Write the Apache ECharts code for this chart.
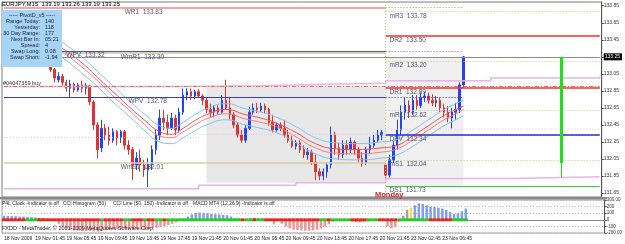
<!DOCTYPE html>
<html>
<head>
<meta charset="utf-8">
<script src="https://cdn.jsdelivr.net/npm/echarts@6/dist/echarts.min.js"></script>
<style>
  html, body { margin: 0; padding: 0; background: #fff; }
  #chart { width: 625px; height: 244px; }
</style>
</head>
<body>
<div id="chart"></div>
<script>
// EURJPY M15, shown here as 30 minute slots, 154 slots across the window
const slotCount = 154;
const tickLabels = ['18 Nov 2009', '19 Nov 01:45', '19 Nov 05:45', '19 Nov 09:45', '19 Nov 13:45',
  '19 Nov 17:45', '19 Nov 21:45', '20 Nov 01:45', '20 Nov 05:45', '20 Nov 09:45', '20 Nov 13:45',
  '20 Nov 17:45', '20 Nov 21:45', '23 Nov 02:45', '23 Nov 06:45'];
const priceTicks = [131.65, 131.85, 132.05, 132.25, 132.45, 132.65, 132.85, 133.05, 133.25, 133.45, 133.65, 133.85];
const bidPrice = 133.25;
const orderPrice = 132.91;

// [open, close, low, high]
const candles = [
  [133.61,133.56,133.53,133.66],[133.56,133.52,133.48,133.60],[133.52,133.59,133.49,133.62],[133.59,133.49,133.46,133.61],
  [133.49,133.45,133.41,133.53],[133.45,133.47,133.40,133.51],[133.47,133.40,133.37,133.49],[133.40,133.35,133.32,133.44],
  [133.35,133.38,133.31,133.42],[133.38,133.31,133.27,133.40],[133.31,133.26,133.22,133.34],[133.26,133.21,133.18,133.29],
  [133.21,133.10,133.07,133.24],[133.10,133.00,132.95,133.12],[132.98,133.02,132.95,133.07],[133.02,132.95,132.91,133.05],
  [132.95,132.88,132.84,132.98],[132.88,132.93,132.78,132.98],[132.93,132.86,132.83,132.95],[132.86,132.92,132.84,132.94],
  [132.92,132.88,132.83,132.97],[132.88,132.91,132.81,132.94],[132.91,132.72,132.68,132.92],[132.72,132.45,132.39,132.74],
  [132.45,132.16,132.06,132.48],[132.18,132.41,132.13,132.51],[132.41,132.33,132.27,132.46],[132.33,132.27,132.21,132.43],
  [132.27,132.37,132.24,132.41],[132.37,132.30,132.21,132.39],[132.30,132.37,132.24,132.39],[132.37,132.21,132.16,132.39],
  [132.21,132.16,132.10,132.27],[132.16,131.98,131.80,132.19],[131.98,132.06,131.92,132.13],[132.06,131.98,131.90,132.16],
  [131.98,131.92,131.84,132.04],[131.92,131.98,131.72,132.06],[131.98,132.16,131.92,132.21],[132.16,132.33,132.10,132.39],
  [132.33,132.53,132.27,132.63],[132.53,132.48,132.39,132.63],[132.48,132.41,132.33,132.57],[132.41,132.53,132.39,132.59],
  [132.53,132.39,132.33,132.57],[132.39,132.60,132.36,132.65],[132.60,132.80,132.57,132.88],[132.80,132.84,132.74,132.88],
  [132.84,132.79,132.74,132.88],[132.79,132.84,132.75,132.86],[132.84,132.79,132.77,132.87],[132.79,132.74,132.68,132.81],
  [132.74,132.63,132.59,132.77],[132.63,132.60,132.54,132.70],[132.60,132.65,132.54,132.68],[132.65,132.60,132.57,132.68],
  [132.60,132.74,132.58,132.80],[132.74,132.65,132.63,132.98],[132.65,132.57,132.51,132.78],[132.57,132.45,132.41,132.60],
  [132.45,132.33,132.30,132.48],[132.33,132.27,132.24,132.39],[132.27,132.41,132.24,132.45],[132.41,132.60,132.39,132.66],
  [132.60,132.65,132.57,132.70],[132.65,132.63,132.59,132.71],[132.63,132.67,132.60,132.71],[132.67,132.63,132.59,132.70],
  [132.63,132.48,132.44,132.65],[132.48,132.39,132.36,132.57],[132.39,132.45,132.37,132.48],[132.45,132.41,132.38,132.48],
  [132.41,132.33,132.30,132.51],[132.33,132.27,132.24,132.39],[132.27,132.20,132.18,132.32],[132.20,132.24,132.16,132.27],
  [132.24,132.16,132.12,132.27],[132.16,132.10,132.06,132.21],[132.10,132.13,132.04,132.18],[132.13,132.01,131.98,132.16],
  [132.01,131.90,131.80,132.10],[131.90,131.85,131.80,131.94],[131.85,131.90,131.80,131.94],[131.90,131.98,131.83,132.01],
  [131.98,132.33,131.94,132.43],[132.33,132.18,132.10,132.37],[132.18,132.10,132.04,132.24],[132.10,132.21,132.06,132.27],
  [132.21,132.16,132.10,132.27],[132.16,132.25,132.12,132.30],[132.25,132.16,132.10,132.27],[132.16,132.06,132.01,132.19],
  [132.06,132.00,131.96,132.13],[132.00,132.16,131.98,132.19],[132.16,132.21,132.12,132.31],[132.21,132.27,132.18,132.33],
  [132.27,132.33,132.24,132.39],[132.33,132.36,132.27,132.39],
  [131.98,131.86,131.80,132.00],[131.86,132.04,131.83,132.10],[132.04,132.21,132.00,132.27],[132.21,132.39,132.16,132.51],
  [132.39,132.60,132.33,132.68],[132.60,132.68,132.51,132.77],[132.68,132.60,132.53,132.74],[132.60,132.74,132.57,132.80],
  [132.74,132.68,132.63,132.80],[132.68,132.77,132.65,132.83],[132.77,132.79,132.72,132.84],[132.79,132.74,132.70,132.83],
  [132.74,132.71,132.67,132.81],[132.71,132.74,132.66,132.79],[132.74,132.65,132.60,132.77],[132.65,132.60,132.54,132.70],
  [132.60,132.53,132.48,132.67],[132.53,132.60,132.41,132.65],[132.60,132.63,132.51,132.71],[132.63,132.92,132.59,132.95],
  [132.92,133.25,132.88,133.26]
];

// envelope lines, [slot, price]
const bandUpper = [[8,133.64],[15,133.42],[20,133.25],[24,133.08],[28,132.91],[32,132.74],[36,132.58],[40,132.44],[43,132.41],[46,132.48],[49,132.57],[52,132.64],[57,132.70],[62,132.64],[66,132.60],[70,132.54],[75,132.43],[80,132.30],[85,132.24],[90,132.23],[97,132.25],[101,132.28],[105,132.39],[109,132.51],[113,132.63],[116,132.70],[118,132.74]];
const maFast = [[8,133.56],[15,133.35],[20,133.18],[24,133.01],[28,132.84],[32,132.67],[36,132.51],[40,132.37],[43,132.34],[46,132.41],[49,132.50],[52,132.57],[57,132.63],[62,132.57],[66,132.53],[70,132.47],[75,132.36],[80,132.23],[85,132.17],[90,132.16],[97,132.18],[101,132.21],[105,132.32],[109,132.44],[113,132.56],[116,132.63],[118,132.67]];
const maSlow = [[8,133.52],[15,133.31],[20,133.13],[24,132.97],[28,132.79],[32,132.63],[36,132.46],[40,132.32],[43,132.30],[46,132.37],[49,132.45],[52,132.52],[57,132.58],[62,132.52],[66,132.48],[70,132.43],[75,132.31],[80,132.18],[85,132.12],[90,132.11],[97,132.13],[101,132.17],[105,132.27],[109,132.39],[113,132.51],[116,132.58],[118,132.63]];
const bandLower = [[8,133.45],[15,133.24],[20,133.06],[24,132.90],[28,132.72],[32,132.56],[36,132.39],[40,132.25],[43,132.23],[46,132.30],[49,132.38],[52,132.45],[57,132.51],[62,132.45],[66,132.41],[70,132.36],[75,132.24],[80,132.11],[85,132.05],[90,132.04],[97,132.06],[101,132.10],[105,132.20],[109,132.32],[113,132.44],[116,132.51],[118,132.56]];

// stepped range lines
const rangeHigh = [[0,132.90],[45,132.91],[66,132.93],[86,132.94],[98,132.97],[125,133.00],[153,133.02]];
const rangeMid = [[0,132.30],[50,132.34],[98,132.40],[153,132.40]];
const rangeLow = [[0,131.70],[50,131.74],[75,131.77],[98,131.82],[130,131.84],[153,131.84]];

// pivot levels
const levelNames = ['WR1', 'mR3', 'DR2', 'WPV', 'WmR1', 'mR2', 'DR1', 'WPV', 'mR1', 'DPV', 'mS1', 'WmS1', 'DS1'];
const levelValues = [133.83, 133.78, 133.50, 133.32, 133.30, 133.20, 132.89, 132.78, 132.62, 132.34, 132.04, 132.01, 131.73];

// CCI histogram, one value per slot
const cciHist = [
  60, 60, 55, 55, 50, 50, 45, 40, 35, 30, 25, 20,
  10, -10, -60, -100, -130, -150, -160, -165, -170, -170, -165, -175, -180, -170,
  -150, -145, -140, -140, -135, -130, -135, -140, -145, -150, -145, -140, -130, -120, -110, -100, -80, -60, -40, -20,
  20, 50, 80, 100, 110, 105, 100, 90, 85, 80, 75, 70, 50,
  30, 20, 10, 15, 25, 30, 25, 20, 15, 5,
  -70, -20,
  -60, -100, -130, -150, -155, -160, -165, -165,
  -160, -150, -130, -100, -70, -30,
  -20, -15, -15, -20, -25, -35, -40, -35, -25, -10,
  10, 15, 15,
  -100, -130, -110, -30,
  60, 150, 180, 220, 250, 240, 220, 200, 195, 185, 170, 150, 120, 90, 100, 130, 170
];
const cciGrey = [102, 103];
const cciYellow = [13, 104];
const cciTrend = ['RRRRRR', 'GGG', 'RRRRRRRRRRRRRR', 'RRGRRR', 'RRGGRRRGRR', 'GGRGGG', 'GGGGGGGGGGGGGG',
  'GGRGGRGGRR', 'RRRRRRRRRRRR', 'GGR', 'GGGGG', 'RRRR', 'GGG', 'RRRRR', 'GGGGGGGG', 'RRRRRR', 'GGGG'].join('');

const fontFam = 'Liberation Sans, Arial, sans-serif';
const cats = Array.from({ length: slotCount }, (_, i) => String(i));
const yMin = 131.603, yMax = 133.894;
const D = 98, E = 118, R = slotCount - 1;

const olive = { color: '#c8c870', width: 1, type: [1, 2] };
function solid(color, width) {
  return { color: color, width: width, type: 'solid' };
}
function dotted(color) {
  return { color: color, width: 1, type: [1, 2] };
}
function seg(x0, x1, v, style) {
  return [{ coord: [x0, v], lineStyle: style }, { coord: [x1, v] }];
}
const L = levelValues;
const levelLines = [
  seg(0, D, L[0], solid('#f5a5a5', 2)),
  seg(D, E, L[0], dotted('#f07070')),
  seg(D, R, L[1], olive),
  seg(D, R, L[2], solid('#ff2a2a', 1.5)),
  seg(0, D, L[4], solid('#c8c890', 1.5)),
  seg(0, D, L[3], solid('#5050c8', 1)),
  seg(D, E, L[3], dotted('#7070b0')),
  seg(0, R, bidPrice, solid('#8c8c8c', 1)),
  seg(D, R, L[5], olive),
  seg(D, R, L[6], solid('#ff2a2a', 1.5)),
  seg(0, R, orderPrice, { color: '#ff6a3a', width: 1, type: [4, 2, 1, 2] }),
  seg(0, D, L[7], solid('#3a3ad0', 1.2)),
  seg(D, E, L[7], dotted('#3a3ad0')),
  seg(D, R, L[8], olive),
  seg(D, R, L[9], solid('#2a2ad0', 1.5)),
  seg(D, R, L[10], olive),
  seg(0, D, L[11], solid('#d0d0a0', 1.5)),
  seg(D, R, L[12], solid('#30d030', 1)),
  [{ coord: [D, yMax], lineStyle: olive }, { coord: [D, yMin] }],
  [{ coord: [143, bidPrice], lineStyle: solid('#22dd22', 3) }, { coord: [143, 132.00] }],
  [{ coord: [143, 132.00], lineStyle: solid('#22dd22', 1) }, { coord: [143, 131.83] }]
];

const chart = echarts.init(document.getElementById('chart'), null, { renderer: 'canvas' });

function lineSeries(data, color, width, extra) {
  return Object.assign({
    type: 'line', xAxisIndex: 0, yAxisIndex: 0, data: data, symbol: 'none', silent: true,
    lineStyle: { color: color, width: width }, animation: false
  }, extra || {});
}

chart.setOption({
  animation: false,
  backgroundColor: '#ffffff',
  textStyle: { fontFamily: fontFam },
  grid: [
    { left: 2, top: 2, width: 605, height: 195, show: true, borderColor: '#7a7a7a', borderWidth: 1 },
    { left: 2, top: 200, width: 605, height: 33, show: true, borderColor: '#9a9a9a', borderWidth: 1 }
  ],
  xAxis: [
    { type: 'category', gridIndex: 0, data: cats, boundaryGap: true, show: false },
    {
      type: 'category', gridIndex: 1, data: cats, boundaryGap: true,
      axisLine: { lineStyle: { color: '#888' } },
      axisTick: { alignWithLabel: true, length: 2, interval: (i) => i % 8 === 0 && i <= 112, lineStyle: { color: '#333' } },
      axisLabel: {
        interval: (i) => i % 8 === 0 && i <= 112, align: 'left', fontSize: 5, color: '#222', margin: 3,
        formatter: (v, i) => tickLabels[i / 8] || ''
      }
    }
  ],
  yAxis: [
    {
      type: 'value', gridIndex: 0, position: 'right', min: yMin, max: yMax,
      axisLine: { show: true, lineStyle: { color: '#555' } },
      axisTick: { show: true, length: 2, customValues: priceTicks, lineStyle: { color: '#444' } },
      axisLabel: {
        customValues: priceTicks, fontSize: 5, color: '#333', margin: 2,
        formatter: (v) => Math.abs(v - bidPrice) < 1e-6 ? '{hl|' + v.toFixed(2) + '}' : v.toFixed(2),
        rich: { hl: { backgroundColor: '#000', color: '#fff', fontSize: 5, padding: [1, 2, 1, 1] } }
      },
      splitLine: { show: false }
    },
    {
      type: 'value', gridIndex: 1, position: 'right', min: -200, max: 300, interval: 100,
      axisLine: { show: true, lineStyle: { color: '#555' } },
      axisTick: { show: true, length: 2 },
      axisLabel: {
        fontSize: 4.5, color: '#333', margin: 2,
        formatter: (v) => v === 300 ? '300.00' : v === -200 ? '-200.00' : String(v)
      },
      splitLine: { show: true, lineStyle: { color: '#bbb', type: [1, 2] } }
    }
  ],
  series: [
    {
      type: 'candlestick', name: 'EURJPY', xAxisIndex: 0, yAxisIndex: 0, data: candles,
      barMaxWidth: 3, silent: true,
      itemStyle: { color: '#2244ee', color0: '#dd3333', borderColor: '#2244ee', borderColor0: '#dd3333', borderWidth: 1 },
      markArea: {
        silent: true,
        data: [
          [{ coord: [52, 132.91], itemStyle: { color: '#e8e8e8' } }, { coord: [D, 131.77] }],
          [{ coord: [D, 133.24], itemStyle: { color: '#f0f0f0' } }, { coord: [E, 131.73] }]
        ]
      },
      markLine: { silent: true, symbol: ['none', 'none'], label: { show: false }, data: levelLines }
    },
    lineSeries(rangeHigh, '#e6b4e6', 1.5, { step: 'end' }),
    lineSeries(rangeMid, '#eab8ea', 1, { step: 'end', lineStyle: { color: '#eab8ea', width: 1, type: [1, 2] } }),
    lineSeries(rangeLow, '#e6b4e6', 1.5, { step: 'end' }),
    lineSeries(bandUpper, '#7ec4f4', 1, { smooth: true }),
    lineSeries(maFast, '#ff4a4a', 1, { smooth: true }),
    lineSeries(maSlow, '#ff7a7a', 1, { smooth: true }),
    lineSeries(bandLower, '#7ec4f4', 1, { smooth: true }),
    {
      type: 'bar', name: 'CCI', xAxisIndex: 1, yAxisIndex: 1, barWidth: 2.5, silent: true,
      data: cciHist.map((v, i) => ({
        value: v,
        itemStyle: {
          color: cciYellow.includes(i) ? '#f0e040' : cciGrey.includes(i) ? '#a0a0a0' : v >= 0 ? '#7f9fec' : '#f09494'
        }
      }))
    },
    {
      type: 'custom', name: 'trend', xAxisIndex: 1, yAxisIndex: 1, z: 5, silent: true,
      data: cciTrend.split('').map((s, i) => [i, s === 'G' ? 1 : -1]),
      renderItem: (params, api) => {
        const i = api.value(0);
        const top = api.coord([i, 22]);
        const bot = api.coord([i, -22]);
        const w = api.size([1, 0])[0];
        return {
          type: 'rect',
          shape: { x: top[0] - w / 2, y: top[1], width: w, height: bot[1] - top[1] },
          style: { fill: api.value(1) > 0 ? '#22cc22' : '#ee2020' }
        };
      }
    }
  ]
});

// overlay texts and the info panel, placed through the axes
const px = (slot, price) => chart.convertToPixel({ xAxisIndex: 0, yAxisIndex: 0 }, [slot, price]);
function txt(text, x, y, opts) {
  return {
    type: 'text', z: 50, silent: true,
    style: Object.assign({ text: text, x: x, y: y, fill: '#55557a', fontSize: 6.5, fontFamily: fontFam, align: 'left', verticalAlign: 'top' }, opts || {})
  };
}
const levelLabelSlots = [31, 99, 99, 16, 30, 99, 99, 32, 99, 99, 99, 30, 99];
const graphics = [];
levelNames.forEach((name, k) => {
  const p = px(levelLabelSlots[k], levelValues[k]);
  graphics.push(txt(name + '  ' + levelValues[k].toFixed(2), p[0], p[1] + 1));
});

// info box
graphics.push({ type: 'rect', z: 40, silent: true, shape: { x: 2, y: 10, width: 60, height: 57 }, style: { fill: '#a6d4f7' } });
graphics.push(txt('----- PivotD_v5 -----', 32, 15, { align: 'center', verticalAlign: 'middle', fontSize: 5.5, fill: '#223' }));
const infoRows = [['Range Today:', '140'], ['Yesterday:', '118'], ['30 Day Range:', '177'], ['Next Bar In:', '05:21'],
  ['Spread:', '4'], ['Swap Long:', '0.08'], ['Swap Short:', '-1.94']];
infoRows.forEach((r, k) => {
  const y = 21 + k * 6;
  graphics.push(txt(r[0], 40, y, { align: 'right', verticalAlign: 'middle', fontSize: 5.5, fill: '#223' }));
  graphics.push(txt(r[1], 45, y, { verticalAlign: 'middle', fontSize: 5.5, fill: '#223' }));
});

graphics.push(txt('EURJPY,M15  133.19 133.26 133.19 133.25', 2, 1, { fontSize: 6, fill: '#000' }));
graphics.push(txt('#04047369 buy', 3, 83, { verticalAlign: 'middle', fontSize: 5.5, fill: '#333' }));
graphics.push(txt('Monday', 375, 191, { fontSize: 7.5, fontWeight: 'bold', fill: '#e02020' }));
graphics.push({ type: 'rect', z: 45, silent: true, shape: { x: 0, y: 197, width: 607, height: 2.5 }, style: { fill: '#8a8a8a' } });

const subLabels = [['P4L Clock -Indicator is off', 2], ['CCI Histogram (50)', 63], ['CCI Line (50, 150) -Indicator is off', 113],
  ['MACD MT4 (12,26,9) -Indicator is off', 193]];
subLabels.forEach((s) => graphics.push(txt(s[0], s[1], 203.5, { verticalAlign: 'middle', fontSize: 5, fill: '#222' })));
graphics.push(txt('FXDD - MetaTrader, \u00a9 2001-2009 MetaQuotes Software Corp.', 2, 228, { verticalAlign: 'middle', fontSize: 5.5, fill: '#222' }));

chart.setOption({ graphic: graphics });
</script>
</body>
</html>
